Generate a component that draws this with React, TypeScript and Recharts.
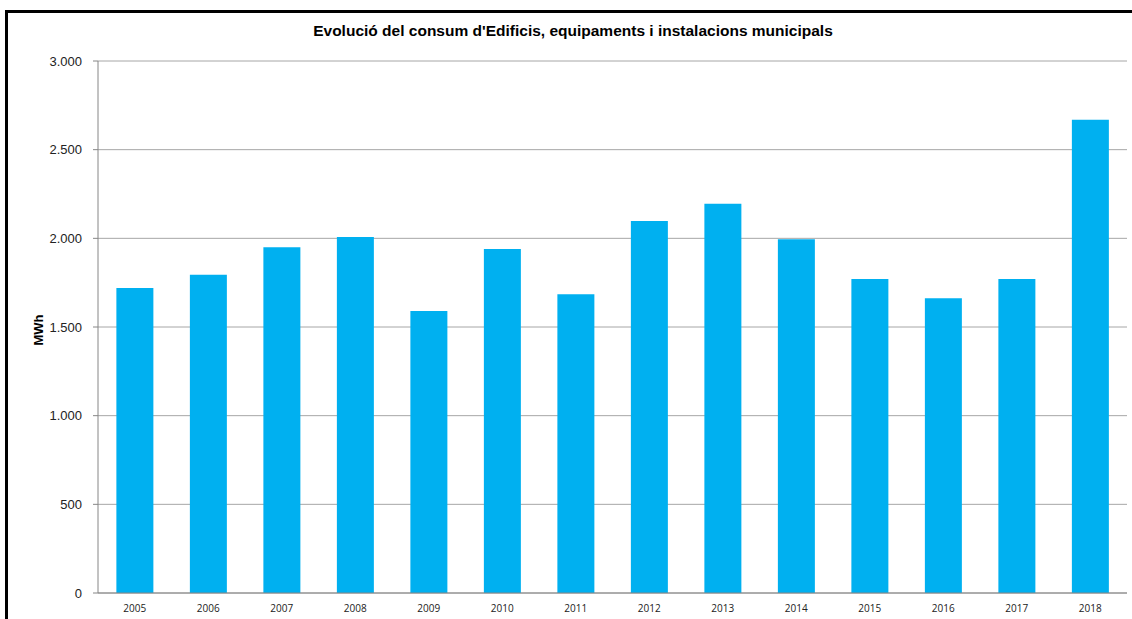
import { BarChart, Bar, XAxis, YAxis, CartesianGrid } from 'recharts';

const years = ['2005', '2006', '2007', '2008', '2009', '2010', '2011', '2012', '2013', '2014', '2015', '2016', '2017', '2018'];
const consum = [1720, 1795, 1950, 2008, 1590, 1940, 1685, 2098, 2195, 1995, 1770, 1662, 1770, 2668];
const yTicks = [0, 500, 1000, 1500, 2000, 2500, 3000];
const bandEdges = [0, 1, 2, 3, 4, 5, 6, 7, 8, 9, 10, 11, 12, 13, 14];

const chartData = years.map((year, i) => ({ year, consum: consum[i] }));

const formatThousands = (v: number) => String(v).replace(/\B(?=(\d{3})+(?!\d))/g, '.');

export default function App() {
  return (
    <div style={{ position: 'absolute', left: 0, top: 0, width: 1132, height: 619, overflow: 'hidden', background: '#fff' }}>
      <div
        style={{
          position: 'absolute',
          left: 5,
          top: 10,
          width: 1200,
          height: 700,
          borderTop: '3px solid #000',
          borderLeft: '3px solid #000',
        }}
      />
      <div
        style={{
          position: 'absolute',
          left: 0,
          top: 22,
          width: 1146,
          textAlign: 'center',
          fontFamily: 'Liberation Sans, Arial, sans-serif',
          fontWeight: 'bold',
          fontSize: 15.5,
        }}
      >
        Evolució del consum d'Edificis, equipaments i instalacions municipals
      </div>
      <div
        style={{
          position: 'absolute',
          left: 38,
          top: 330,
          transform: 'translate(-50%, -50%) rotate(-90deg)',
          fontFamily: 'Liberation Sans, Arial, sans-serif',
          fontWeight: 'bold',
          fontSize: 13,
        }}
      >
        MWh
      </div>
      <BarChart
        width={1132}
        height={619}
        data={chartData}
        margin={{ top: 61, right: 5, left: 0, bottom: 0 }}
        barCategoryGap="25%"
        style={{ position: 'absolute', left: 0, top: 0 }}
      >
        <CartesianGrid vertical={false} stroke="#a6a6a6" />
        <XAxis
          xAxisId="edges"
          type="number"
          domain={[0, 14]}
          ticks={bandEdges}
          height={0}
          axisLine={false}
          tick={false}
          tickLine={{ stroke: '#868686' }}
          tickSize={5}
        />
        <XAxis
          dataKey="year"
          height={26}
          tickLine={false}
          axisLine={{ stroke: '#868686' }}
          tick={{ fontSize: 10, fill: '#222', fontFamily: 'Open Sans, sans-serif' }}
          tickMargin={6}
        />
        <YAxis
          width={98}
          domain={[0, 3000]}
          ticks={yTicks}
          tickFormatter={formatThousands}
          axisLine={{ stroke: '#868686' }}
          tickLine={{ stroke: '#868686' }}
          tickSize={5}
          tickMargin={11}
          tick={{ fontSize: 13, fill: '#222', fontFamily: 'Liberation Sans, Arial, sans-serif' }}
        />
        <Bar dataKey="consum" fill="#00B0F0" isAnimationActive={false} />
      </BarChart>
    </div>
  );
}
